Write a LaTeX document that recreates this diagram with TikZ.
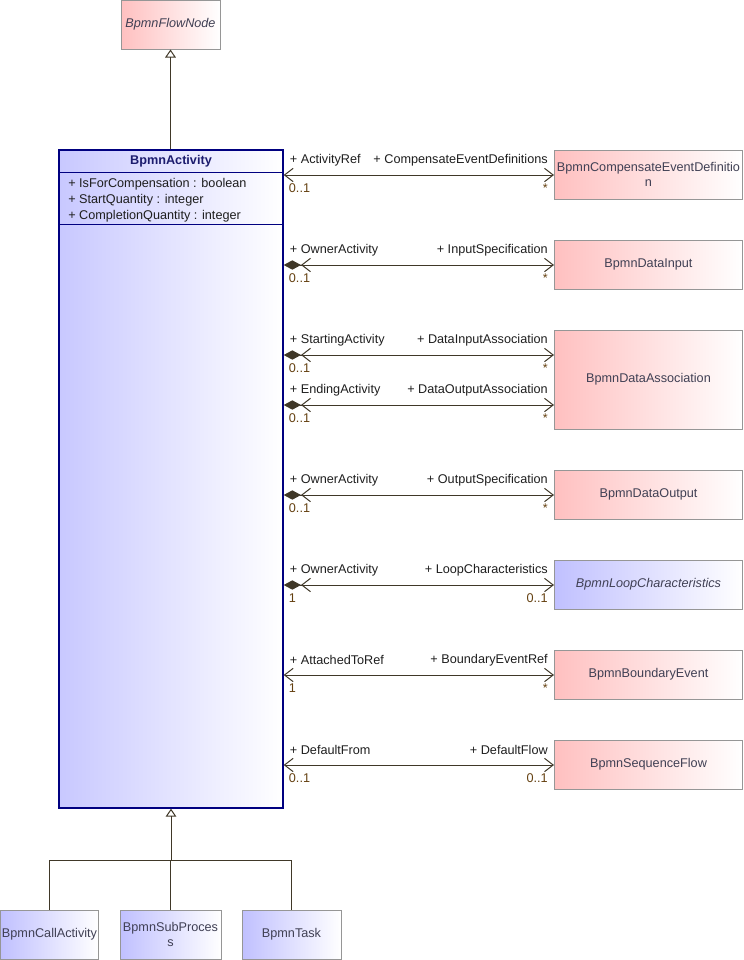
\documentclass[tikz,border=0pt]{standalone}
\usepackage{fontspec}
\setmainfont{Liberation Sans}
\usetikzlibrary{arrows.meta,calc}
\newlength\pxu \setlength\pxu{0.75pt}
\definecolor{pk}{RGB}{255,192,192}
\definecolor{bl}{RGB}{192,192,255}
\definecolor{actbl}{RGB}{200,200,255}
\definecolor{bord}{RGB}{150,150,150}
\definecolor{navy}{RGB}{0,0,128}
\definecolor{ln}{RGB}{64,56,40}
\definecolor{clstxt}{RGB}{64,64,84}
\definecolor{multc}{RGB}{100,64,16}
\definecolor{roletxt}{RGB}{30,30,30}
\definecolor{titletxt}{RGB}{28,28,110}
\begin{document}
\begin{tikzpicture}[x=0.75pt,y=-0.75pt,
  font=\fontsize{9.5}{11}\selectfont,
  cls/.style={draw=bord, line width=0.75pt, inner sep=0pt, text=clstxt, align=center},
  pinkbox/.style={cls, left color=pk, right color=white},
  bluebox/.style={cls, left color=bl, right color=white},
  assoc/.style={draw=ln, line width=0.75pt,
    arrows={Straight Barb[length=6.5pt,width=10pt]-Straight Barb[length=6.5pt,width=10pt]}},
  comp/.style={draw=ln, line width=0.75pt,
    arrows={Diamond[length=13pt,width=7pt] Straight Barb[length=6.5pt,width=10pt]-Straight Barb[length=6.5pt,width=10pt]}},
  gen/.style={draw=ln, line width=0.75pt, -{Triangle[open,length=6pt,width=8pt]}},
  role/.style={text=roletxt, inner sep=0pt},
  mul/.style={text=multc, inner sep=0pt}]
\useasboundingbox (0,0) rectangle (743,960);
% classes
\node[pinkbox, minimum width=99\pxu, minimum height=49\pxu, font=\fontsize{9.5}{11}\selectfont\itshape] (flow) at (170.5,24.5) {BpmnFlowNode};
\node[draw=navy, line width=1pt, left color=actbl, right color=white, minimum width=224\pxu, minimum height=658\pxu, inner sep=0pt] (act) at (171,479) {};
\coordinate (s1) at (0,172);
\coordinate (s2) at (0,224);
\draw[navy, line width=0.75pt] (act.west |- s1) -- (act.east |- s1);
\draw[navy, line width=0.75pt] (act.west |- s2) -- (act.east |- s2);
\node[text=titletxt, font=\fontsize{9.5}{11}\selectfont\bfseries, inner sep=0pt] (acttitle) at (171,161) {BpmnActivity};
\node[anchor=west, inner sep=0pt, text=roletxt] (at1) at (68,184) {+ IsForCompensation : boolean};
\node[anchor=west, inner sep=0pt, text=roletxt] (at2) at (68,200) {+ StartQuantity : integer};
\node[anchor=west, inner sep=0pt, text=roletxt] (at3) at (68,216) {+ CompletionQuantity : integer};

\node[pinkbox, minimum width=188\pxu, minimum height=49\pxu] (cmp) at (648.5,174.5) {BpmnCompensateEventDefinitio\\n};
\node[pinkbox, minimum width=188\pxu, minimum height=49\pxu] (din) at (648.5,264.5) {BpmnDataInput};
\node[pinkbox, minimum width=188\pxu, minimum height=99\pxu] (das) at (648.5,379.5) {BpmnDataAssociation};
\node[pinkbox, minimum width=188\pxu, minimum height=49\pxu] (dout) at (648.5,494.5) {BpmnDataOutput};
\node[bluebox, minimum width=188\pxu, minimum height=49\pxu, font=\fontsize{9.5}{11}\selectfont\itshape] (loop) at (648.5,584.5) {BpmnLoopCharacteristics};
\node[pinkbox, minimum width=188\pxu, minimum height=49\pxu] (bnd) at (648.5,674.5) {BpmnBoundaryEvent};
\node[pinkbox, minimum width=188\pxu, minimum height=49\pxu] (seq) at (648.5,764.5) {BpmnSequenceFlow};

\node[bluebox, minimum width=98\pxu, minimum height=49\pxu] (call) at (49.5,934.5) {BpmnCallActivity};
\node[bluebox, minimum width=101\pxu, minimum height=49\pxu] (sub) at (170.5,934.5) {BpmnSubProces\\s};
\node[bluebox, minimum width=99\pxu, minimum height=49\pxu] (task) at (291.5,934.5) {BpmnTask};

% generalizations
\draw[gen] (act.north -| flow.south) -- (flow.south);
\coordinate (j) at (171,860);
\draw[draw=ln, line width=0.75pt] (call.north) |- (j);
\draw[draw=ln, line width=0.75pt] (task.north) |- (j);
\draw[gen] (j) -- (act.south);
\draw[draw=ln, line width=0.75pt] (sub.north) -- (sub.north |- j);

% association rows
\coordinate (r1) at (0,175);
\coordinate (r2) at (0,265);
\coordinate (r3) at (0,355);
\coordinate (r4) at (0,405);
\coordinate (r5) at (0,495);
\coordinate (r6) at (0,585);
\coordinate (r7) at (0,675);
\coordinate (r8) at (0,765);

\draw[assoc] (act.east |- r1) -- (cmp.west |- r1);
\node[role, anchor=west] (l1a) at ($(act.east |- r1)+(6,-15)$) {+ ActivityRef};
\node[role, anchor=east] (l1b) at ($(cmp.west |- r1)+(-6,-15)$) {+ CompensateEventDefinitions};
\node[mul, anchor=west] (m1a) at ($(act.east |- r1)+(5,13)$) {0..1};
\node[mul, anchor=east] (m1b) at ($(cmp.west |- r1)+(-6,13)$) {*};

\draw[comp] (act.east |- r2) -- (din.west |- r2);
\node[role, anchor=west] (l2a) at ($(act.east |- r2)+(6,-15)$) {+ OwnerActivity};
\node[role, anchor=east] (l2b) at ($(din.west |- r2)+(-6,-15)$) {+ InputSpecification};
\node[mul, anchor=west] (m2a) at ($(act.east |- r2)+(5,13)$) {0..1};
\node[mul, anchor=east] (m2b) at ($(din.west |- r2)+(-6,13)$) {*};

\draw[comp] (act.east |- r3) -- (das.west |- r3);
\node[role, anchor=west] (l3a) at ($(act.east |- r3)+(6,-15)$) {+ StartingActivity};
\node[role, anchor=east] (l3b) at ($(das.west |- r3)+(-6,-15)$) {+ DataInputAssociation};
\node[mul, anchor=west] (m3a) at ($(act.east |- r3)+(5,13)$) {0..1};
\node[mul, anchor=east] (m3b) at ($(das.west |- r3)+(-6,13)$) {*};

\draw[comp] (act.east |- r4) -- (das.west |- r4);
\node[role, anchor=west] (l4a) at ($(act.east |- r4)+(6,-15)$) {+ EndingActivity};
\node[role, anchor=east] (l4b) at ($(das.west |- r4)+(-6,-15)$) {+ DataOutputAssociation};
\node[mul, anchor=west] (m4a) at ($(act.east |- r4)+(5,13)$) {0..1};
\node[mul, anchor=east] (m4b) at ($(das.west |- r4)+(-6,13)$) {*};

\draw[comp] (act.east |- r5) -- (dout.west |- r5);
\node[role, anchor=west] (l5a) at ($(act.east |- r5)+(6,-15)$) {+ OwnerActivity};
\node[role, anchor=east] (l5b) at ($(dout.west |- r5)+(-6,-15)$) {+ OutputSpecification};
\node[mul, anchor=west] (m5a) at ($(act.east |- r5)+(5,13)$) {0..1};
\node[mul, anchor=east] (m5b) at ($(dout.west |- r5)+(-6,13)$) {*};

\draw[comp] (act.east |- r6) -- (loop.west |- r6);
\node[role, anchor=west] (l6a) at ($(act.east |- r6)+(6,-15)$) {+ OwnerActivity};
\node[role, anchor=east] (l6b) at ($(loop.west |- r6)+(-6,-15)$) {+ LoopCharacteristics};
\node[mul, anchor=west] (m6a) at ($(act.east |- r6)+(5,13)$) {1};
\node[mul, anchor=east] (m6b) at ($(loop.west |- r6)+(-6,13)$) {0..1};

\draw[assoc] (act.east |- r7) -- (bnd.west |- r7);
\node[role, anchor=west] (l7a) at ($(act.east |- r7)+(6,-15)$) {+ AttachedToRef};
\node[role, anchor=east] (l7b) at ($(bnd.west |- r7)+(-6,-15)$) {+ BoundaryEventRef};
\node[mul, anchor=west] (m7a) at ($(act.east |- r7)+(5,13)$) {1};
\node[mul, anchor=east] (m7b) at ($(bnd.west |- r7)+(-6,13)$) {*};

\draw[assoc] (act.east |- r8) -- (seq.west |- r8);
\node[role, anchor=west] (l8a) at ($(act.east |- r8)+(6,-15)$) {+ DefaultFrom};
\node[role, anchor=east] (l8b) at ($(seq.west |- r8)+(-6,-15)$) {+ DefaultFlow};
\node[mul, anchor=west] (m8a) at ($(act.east |- r8)+(5,13)$) {0..1};
\node[mul, anchor=east] (m8b) at ($(seq.west |- r8)+(-6,13)$) {0..1};
\end{tikzpicture}
\end{document}
